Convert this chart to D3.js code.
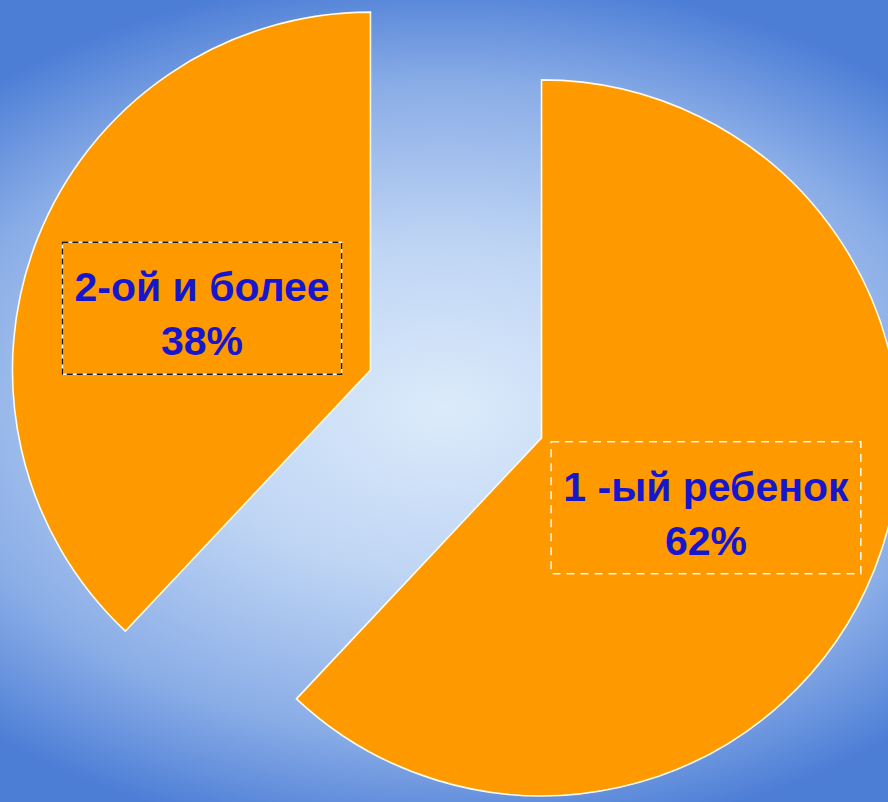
<!DOCTYPE html>
<html>
<head>
<meta charset="utf-8">
<script src="https://cdn.jsdelivr.net/npm/d3@7"></script>
<style>
  html, body { margin: 0; padding: 0; overflow: hidden; }
  svg { display: block; }
</style>
</head>
<body>
<div id="chart"></div>
<script>
// categories and values
const categories = ["1 -ый ребенок", "2-ой и более"];
const values = [62, 38];
const labelsPct = ["62%", "38%"];

const W = 888, H = 802;
const cx = 456, cy = 404, radius = 358, explode = 92;

const svg = d3.select("#chart").append("svg")
  .attr("width", W)
  .attr("height", H);

// background: light centre fading to blue, flatter vertically
const defs = svg.append("defs");
const grad = defs.append("radialGradient")
  .attr("id", "bg")
  .attr("gradientUnits", "userSpaceOnUse")
  .attr("cx", 0).attr("cy", 0).attr("r", 680)
  .attr("gradientTransform", "translate(444,410) scale(1,0.64)");
grad.append("stop").attr("offset", "0%").attr("stop-color", "#dcebfb");
grad.append("stop").attr("offset", "38%").attr("stop-color", "#bfd5f4");
grad.append("stop").attr("offset", "75%").attr("stop-color", "#8aade7");
grad.append("stop").attr("offset", "100%").attr("stop-color", "#4d7ed6");

svg.append("rect")
  .attr("width", W).attr("height", H)
  .attr("fill", "url(#bg)");

const pie = d3.pie().sort(null).value(d => d.value);
const arcs = pie(categories.map((c, i) => ({ name: c, value: values[i], pct: labelsPct[i] })));

const arc = d3.arc().innerRadius(0).outerRadius(radius);

const g = svg.append("g").attr("transform", "translate(" + cx + "," + cy + ")");

//each slice pushed out from the centre along its middle angle
const slice = g.selectAll(".slice")
  .data(arcs)
  .enter().append("g")
  .attr("class", "slice")
  .attr("transform", function (d) {
    let a = (d.startAngle + d.endAngle) / 2;
    return "translate(" + (explode * Math.sin(a)) + "," + (-explode * Math.cos(a)) + ")";
  });

slice.append("path")
  .attr("d", arc)
  .attr("fill", "#ff9900")
  .attr("stroke", "#fffbe8")
  .attr("stroke-width", 1.6)
  .attr("stroke-linejoin", "miter");

// labels with dashed boxes
const label = slice.append("g")
  .attr("transform", function (d) {
    let c = arc.centroid(d);
    return "translate(" + (c[0] - 2) + "," + (c[1] + 4) + ")";
  });

label.each(function (d, i) {
  let lg = d3.select(this);
  let t = lg.append("text")
    .attr("text-anchor", "middle")
    .style("font-family", "'Liberation Sans', Arial, sans-serif")
    .style("font-weight", "bold")
    .style("font-size", "41px")
    .attr("fill", "#1616cc");
  t.append("tspan").attr("x", 0).attr("y", -7).text(d.data.name);
  t.append("tspan").attr("x", 0).attr("y", 47).text(d.data.pct);

  let bb = t.node().getBBox();
  let padX = 12;
  let bw = bb.width + padX * 2;
  let bh = 132;
  let rect = { x: -bw / 2, y: -bh / 2, w: bw, h: bh };

  if (i === 1) {
    lg.insert("rect", "text")
      .attr("x", rect.x).attr("y", rect.y)
      .attr("width", rect.w).attr("height", rect.h)
      .attr("fill", "none")
      .attr("stroke", "#ffffff")
      .attr("stroke-width", 1.4);
    lg.insert("rect", "text")
      .attr("x", rect.x).attr("y", rect.y)
      .attr("width", rect.w).attr("height", rect.h)
      .attr("fill", "none")
      .attr("stroke", "#1a1a1a")
      .attr("stroke-width", 1.4)
      .attr("stroke-dasharray", "6,4");
  } else {
    lg.insert("rect", "text")
      .attr("x", rect.x).attr("y", rect.y)
      .attr("width", rect.w).attr("height", rect.h)
      .attr("fill", "none")
      .attr("stroke", "#fff6e0")
      .attr("stroke-width", 1.6)
      .attr("stroke-dasharray", "8,6");
  }
});
</script>
</body>
</html>
